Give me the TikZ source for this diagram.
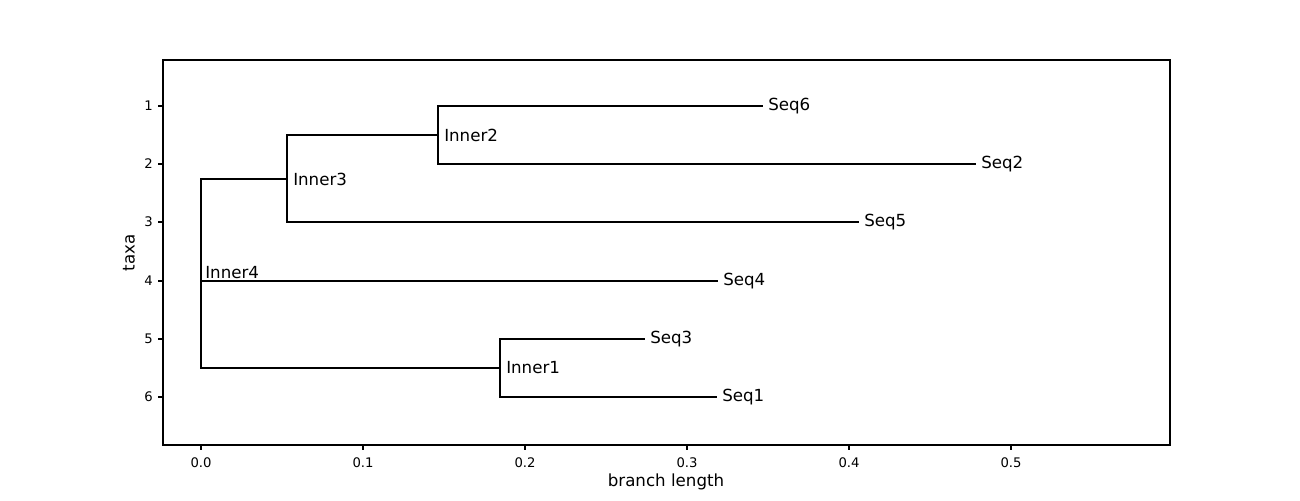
\documentclass[tikz,border=0pt]{standalone}
\usepackage{fontspec}
\setmainfont{DejaVu Sans}
\begin{document}
\begin{tikzpicture}[x=0.72pt,y=-0.72pt,
  branch/.style={line width=1.5pt, line cap=rect},
  spine/.style={line width=0.8pt},
  tick/.style={line width=0.8pt},
  tiplabel/.style={anchor=west, inner sep=0pt, font=\fontsize{12}{14}\selectfont},
  ticklabel/.style={inner sep=0pt, font=\fontsize{9.5}{11}\selectfont},
  axlabel/.style={inner sep=0pt, font=\fontsize{12}{14}\selectfont}]
\useasboundingbox (0,0) rectangle (1300,500);
\fill[white] (0,0) rectangle (1300,500);
% axes frame
\draw[spine] (163,60) rectangle (1170,445);
% x ticks
\foreach \v/\px in {0.0/201,0.1/363,0.2/525,0.3/687,0.4/849,0.5/1011}{
  \draw[tick] (\px,445) -- (\px,450);
  \node[ticklabel] (xt\px) at (\px,463) {\v};
}
% y ticks
\foreach \k/\py in {1/106,2/164,3/222,4/281,5/339,6/397}{
  \draw[tick] (158,\py) -- (163,\py);
  \node[ticklabel, anchor=east] (yt\k) at (153,\py) {\k};
}
\node[axlabel] (xlab) at (666,482) {branch length};
\node[axlabel, rotate=90] (ylab) at (129,253) {taxa};
% tree coordinates
\coordinate (r) at (201,368);
\coordinate (rtop) at (201,179);
\coordinate (r4) at (201,281);
\coordinate (i3) at (287,179);
\coordinate (i3t) at (287,135);
\coordinate (i3b) at (287,222);
\coordinate (i2) at (438,135);
\coordinate (i2t) at (438,106);
\coordinate (i2b) at (438,164);
\coordinate (i1) at (500,368);
\coordinate (i1t) at (500,339);
\coordinate (i1b) at (500,397);
\coordinate (s6) at (762,106);
\coordinate (s2) at (975,164);
\coordinate (s5) at (858,222);
\coordinate (s4) at (717,281);
\coordinate (s3) at (644,339);
\coordinate (s1) at (716,397);
% branches
\draw[branch] (rtop) -- (r);
\draw[branch] (rtop) -- (i3);
\draw[branch] (r) -- (i1);
\draw[branch] (r4) -- (s4);
\draw[branch] (i3t) -- (i3b);
\draw[branch] (i3t) -- (i2);
\draw[branch] (i3b) -- (s5);
\draw[branch] (i2t) -- (i2b);
\draw[branch] (i2t) -- (s6);
\draw[branch] (i2b) -- (s2);
\draw[branch] (i1t) -- (i1b);
\draw[branch] (i1t) -- (s3);
\draw[branch] (i1b) -- (s1);
% labels
\node[tiplabel] (l6) at ([xshift=4.3pt]s6) {Seq6};
\node[tiplabel] (l2) at ([xshift=4.3pt]s2) {Seq2};
\node[tiplabel] (l5) at ([xshift=4.3pt]s5) {Seq5};
\node[tiplabel] (l4) at ([xshift=4.3pt]s4) {Seq4};
\node[tiplabel] (l3) at ([xshift=4.3pt]s3) {Seq3};
\node[tiplabel] (l1) at ([xshift=4.3pt]s1) {Seq1};
\node[tiplabel] (li2) at ([xshift=4.3pt]i2) {Inner2};
\node[tiplabel] (li3) at ([xshift=4.3pt]i3) {Inner3};
\node[tiplabel] (li1) at ([xshift=4.3pt]i1) {Inner1};
\node[tiplabel] (li4) at (205,273) {Inner4};
\end{tikzpicture}
\end{document}
